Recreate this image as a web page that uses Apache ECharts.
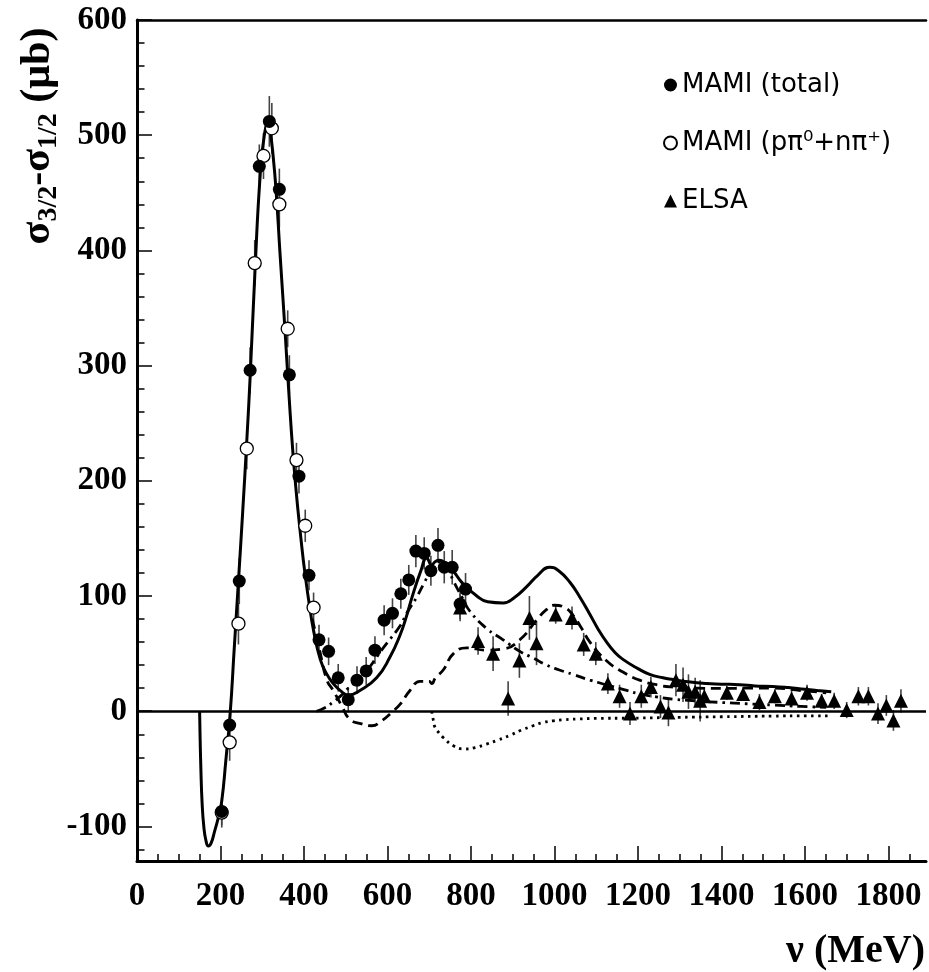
<!DOCTYPE html>
<html><head><meta charset="utf-8">
<script src="https://cdn.jsdelivr.net/npm/echarts@6/dist/echarts.min.js"></script>
<style>html,body{margin:0;padding:0;background:#fff}#c{width:929px;height:972px}</style>
</head><body><div id="c"></div>
<script>
// ---- data: [nu (MeV), sigma3/2 - sigma1/2 (microbarn), error] ----
const mamiTotal = [
  [203,-87,12],[222,-12,14],[245,113,20],[271,296,20],[293,473,19],[317,512,22],[341,453,18],
  [365,292,17],[388,204,15],[412,118,13],[436,62,13],[459,52,12],[482,29,12],[506,10,11],
  [527,27,12],[549,35,12],[570,53,12],[592,79,13],[612,85,13],[632,102,13],[651,114,13],
  [668,139,14],[688,137,14],[704,122,13],[721,144,15],[736,125,14],[755,125,15],[774,93,13],[787,106,14]
];
const mamiPartial = [
  [203,-88,13],[222,-27,16],[243,76,18],[263,228,18],[282,389,20],[303,482,20],[323,506,22],
  [341,440,20],[361,332,16],[382,218,15],[403,161,14],[423,90,13]
];
const elsa = [
  [774,90,12],[817,61,12],[853,50,15],[889,11,15],[916,44,15],[940,81,19],[957,59,19],
  [1003,84,8],[1042,81,10],[1070,58,10],[1099,50,10],[1128,24,9],[1156,13,10],[1181,-2,10],
  [1208,13,10],[1231,21,9],[1254,4,10],[1273,-1,12],[1291,27,14],[1308,23,15],[1321,17,15],
  [1337,17,12],[1349,9,18],[1359,13,8],[1413,16,6],[1452,15,6],[1491,8,7],[1528,13,6],
  [1568,11,7],[1605,16,7],[1640,9,6],[1670,9,7],[1700,1,7],[1728,13,8],[1752,13,8],
  [1775,-2,9],[1795,5,9],[1812,-8,9],[1830,9,10]
];
// model curves
const curveTotal = [
  [150,0],[151,-20],[153,-50],[156,-80],[160,-100],[165,-112],[171,-117],[178,-114],[186,-104],
  [195,-92],[203,-78],[213,-42],[223,-3],[233,55],[243,113],[253,172],[263,235],[271,290],
  [283,385],[295,465],[305,500],[314,510],[319,505],[331,462],[343,395],[355,328],[367,258],
  [379,200],[395,142],[403,118],[413,92],[423,70],[439,45],[455,32],[470,24],[490,17],[506,14],
  [534,18],[574,29],[606,47],[630,66],[646,83],[658,98],[680,122],[694,133],[706,127],[715,130],
  [724,131],[740,128],[757,122],[780,111],[814,100],[840,95],[877,94],[905,99],[933,108],[960,118],
  [989,125],[1010,122],[1037,112],[1061,99],[1085,84],[1105,71],[1125,60],[1145,51],[1164,45],
  [1200,37],[1228,32],[1260,29],[1284,27.5],[1320,25.5],[1364,24],[1400,23.5],[1444,23],[1480,22],
  [1523,21.5],[1560,20.5],[1600,19],[1630,18],[1663,17]
];
const curveOnePion = [
  [420,80],[438,52],[455,27],[470,18],[490,5],[510,-7],[538,-11],[562,-12.6],[586,-8.3],[610,-1],
  [630,6],[654,18],[678,26],[700,26],[706,24],[715,29],[734,36],[758,50],[790,55],[837,53],
  [877,54],[917,62],[957,79],[980,88],[1000,92],[1025,90],[1045,83],[1065,72],[1085,60],[1124,44],
  [1164,34],[1204,27],[1244,23],[1284,21],[1340,20],[1403,19.8],[1460,20],[1523,20],[1590,18],[1651,16]
];
const curveTwoPion = [
  [430,0],[450,3],[470,8],[490,14],[506,20],[522,25],[554,37],[574,47],[594,57],[630,74],[646,85],
  [670,99],[686,110],[705,122],[728,130],[742,126],[758,113],[780,98],[797,87],[837,72],[877,62],
  [917,52],[950,46],[981,40],[1010,36],[1044,32],[1085,27],[1124,23],[1164,19],[1204,15],[1244,12.5],
  [1284,10.5],[1340,9],[1404,7.5],[1460,6.5],[1523,5.4],[1590,4.2],[1651,3.3]
];
const curveEta = [
  [706,0],[710,-8],[714,-14],[724,-19],[734,-23],[758,-30],[786,-32.8],[810,-31.5],[837,-28.5],
  [865,-25],[893,-21],[920,-16.5],[949,-12.6],[970,-10],[997,-8.3],[1025,-7.3],[1053,-6.8],[1100,-6.2],
  [1181,-6],[1300,-5.3],[1400,-4.8],[1523,-4.2],[1600,-4],[1660,-4]
];
// axis ticks
const xTickValues = [0,200,400,600,800,1000,1200,1400,1600,1800];
const yTickValues = [-100,0,100,200,300,400,500,600];
const xMinorTicks = []; for (let v = 0; v <= 1850; v += 50) xMinorTicks.push(v);
const yMinorTicks = []; for (let v = -120; v <= 600; v += 20) yMinorTicks.push(v);

const serif = 'Liberation Serif';
const chart = echarts.init(document.getElementById('c'), null, {renderer: 'canvas'});

function errorBars(data) {
  return {
    type: 'custom', data: data, z: 2, silent: true,
    encode: {x: 0, y: 1},
    renderItem: function (params, api) {
      const x = api.value(0), y = api.value(1), e = api.value(2);
      const a = api.coord([x, y + e]), b = api.coord([x, y - e]);
      return {type: 'line', shape: {x1: a[0], y1: a[1], x2: b[0], y2: b[1]},
              style: {stroke: '#444', lineWidth: 1.6}};
    }
  };
}
function curve(name, data, type, w) {
  return {
    name: name, type: 'line', data: data, showSymbol: false, smooth: 0.5,
    z: 3, silent: true,
    lineStyle: {color: '#000', width: w, type: type, cap: 'butt', join: 'round'}
  };
}

const option = {
  animation: false,
  backgroundColor: '#fff',
  grid: {left: 137, right: 3, top: 20, bottom: 111, containLabel: false},
  legend: {
    orient: 'vertical', left: 658, top: 67, itemGap: 32, itemWidth: 13, itemHeight: 13,
    textStyle: {fontFamily: 'DejaVu Sans', fontSize: 26, color: '#000', padding: [0, 0, 0, 0]},
    data: [
      {name: 'MAMI (total)', icon: 'circle'},
      {name: 'MAMI (pπ⁰+nπ⁺)', icon: 'circle'},
      {name: 'ELSA', icon: 'triangle'}
    ]
  },
  xAxis: [
    {
      type: 'value', min: 0, max: 1890, position: 'bottom',
      axisLine: {show: true, onZero: false, lineStyle: {color: '#000', width: 3}},
      axisTick: {show: true, inside: true, length: 15, customValues: xTickValues, lineStyle: {color: '#000', width: 1.5}},
      axisLabel: {customValues: xTickValues, margin: 19, color: '#000', fontFamily: serif, fontWeight: 'bold', fontSize: 33,
                  formatter: function (v) { return String(v); }},
      splitLine: {show: false}
    },
    {
      type: 'value', min: 0, max: 1890, position: 'bottom',
      axisLine: {show: false, onZero: false},
      axisTick: {show: true, inside: true, length: 7, customValues: xMinorTicks, lineStyle: {color: '#000', width: 1.5}},
      axisLabel: {show: false}, splitLine: {show: false}
    },
    {
      type: 'value', min: 0, max: 1890, position: 'top',
      axisLine: {show: true, onZero: false, lineStyle: {color: '#000', width: 2.5}},
      axisTick: {show: false}, axisLabel: {show: false}, splitLine: {show: false}
    }
  ],
  yAxis: [
    {
      type: 'value', min: -130, max: 600, position: 'left',
      axisLine: {show: true, onZero: false, lineStyle: {color: '#000', width: 3}},
      axisTick: {show: true, inside: true, length: 15, customValues: yTickValues, lineStyle: {color: '#000', width: 1.5}},
      axisLabel: {customValues: yTickValues, margin: 10, color: '#000', fontFamily: serif, fontWeight: 'bold', fontSize: 33,
                  formatter: function (v) { return String(v); }},
      splitLine: {show: false}
    },
    {
      type: 'value', min: -130, max: 600, position: 'left',
      axisLine: {show: false, onZero: false},
      axisTick: {show: true, inside: true, length: 7.5, customValues: yMinorTicks, lineStyle: {color: '#000', width: 1.5}},
      axisLabel: {show: false}, splitLine: {show: false}
    }
  ],
  graphic: [
    {
      type: 'text', x: 40, y: 136, rotation: Math.PI / 2, z: 10,
      style: {
        text: '{m|σ}{s|3/2}{m|-σ}{s|1/2}{m| (μb)}',
        align: 'center', verticalAlign: 'middle',
        rich: {
          m: {fontFamily: serif, fontWeight: 'bold', fontSize: 42, lineHeight: 46, verticalAlign: 'top', fill: '#000'},
          s: {fontFamily: serif, fontWeight: 'bold', fontSize: 28, lineHeight: 23, verticalAlign: 'bottom', fill: '#000'}
        }
      }
    },
    {
      type: 'text', x: 925, y: 952, z: 10,
      style: {text: 'ν (MeV)', align: 'right', verticalAlign: 'middle',
              fontFamily: serif, fontWeight: 'bold', fontSize: 40, fill: '#000'}
    }
  ],
  series: [
    Object.assign(curve('total', curveTotal, 'solid', 3), {
      markLine: {silent: true, symbol: 'none', label: {show: false},
                 lineStyle: {color: '#000', width: 2.5, type: 'solid'},
                 data: [{yAxis: 0}]}
    }),
    curve('one pion', curveOnePion, [10, 6], 2.8),
    curve('two pion', curveTwoPion, [10, 5, 2.5, 5], 2.8),
    curve('eta', curveEta, [2.5, 4.5], 2.8),
    errorBars(mamiTotal),
    errorBars(mamiPartial),
    errorBars(elsa),
    {
      name: 'MAMI (pπ⁰+nπ⁺)', type: 'scatter', data: mamiPartial, symbol: 'circle', symbolSize: 13, z: 4,
      encode: {x: 0, y: 1},
      itemStyle: {color: '#fff', borderColor: '#000', borderWidth: 1.3, opacity: 1}
    },
    {
      name: 'MAMI (total)', type: 'scatter', data: mamiTotal, symbol: 'circle', symbolSize: 13, z: 5,
      encode: {x: 0, y: 1},
      itemStyle: {color: '#000', opacity: 1}
    },
    {
      name: 'ELSA', type: 'scatter', data: elsa, symbol: 'triangle', symbolSize: 14, z: 5,
      encode: {x: 0, y: 1},
      itemStyle: {color: '#000', opacity: 1}
    }
  ]
};
chart.setOption(option);
</script></body></html>
